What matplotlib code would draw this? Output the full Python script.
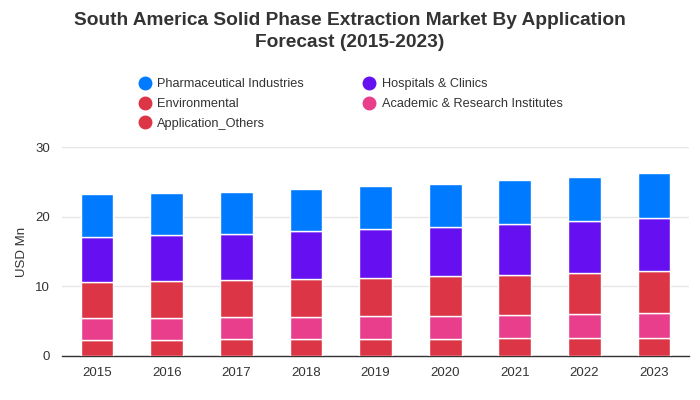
import matplotlib
matplotlib.use('Agg')
import matplotlib.pyplot as plt
from matplotlib.lines import Line2D
import numpy as np

plt.rcParams['font.family'] = ['Liberation Sans', 'DejaVu Sans']

years = ['2015', '2016', '2017', '2018', '2019', '2020', '2021', '2022', '2023']
app_others = [2.30, 2.28, 2.44, 2.44, 2.44, 2.44, 2.58, 2.58, 2.58]
academic = [3.15, 3.17, 3.16, 3.16, 3.30, 3.30, 3.31, 3.45, 3.59]
environmental = [5.17, 5.32, 5.31, 5.45, 5.46, 5.74, 5.74, 5.88, 6.03]
hospitals = [6.46, 6.60, 6.60, 6.89, 7.03, 7.04, 7.32, 7.47, 7.61]
pharma = [6.22, 6.07, 6.08, 6.08, 6.22, 6.22, 6.36, 6.36, 6.51]

# bottom to top
series = [
    ('Application_Others', app_others, '#dc3545'),
    ('Academic & Research Institutes', academic, '#e83e8c'),
    ('Environmental', environmental, '#dc3545'),
    ('Hospitals & Clinics', hospitals, '#6610f2'),
    ('Pharmaceutical Industries', pharma, '#007bff'),
]

fig = plt.figure(figsize=(7, 4), dpi=100)
ax = fig.add_axes([0.089, 0.11, 0.895, 0.5225])

x = np.arange(len(years))
bottom = np.zeros(len(years))
for name, vals, col in series:
    ax.bar(x, vals, 0.47, bottom=bottom, color=col, edgecolor='white', linewidth=1, zorder=3)
    bottom = bottom + np.array(vals)

ax.set_xlim(-0.5, len(years) - 0.5)
ax.set_ylim(0, 30)
ax.set_yticks([0, 10, 20, 30])
ax.set_xticks(x)
ax.set_xticklabels(years)
ax.grid(axis='y', color='#e6e6e6', linewidth=1, zorder=0)
for s in ['top', 'right', 'left']:
    ax.spines[s].set_visible(False)
ax.spines['bottom'].set_color('#333333')
ax.spines['bottom'].set_linewidth(1.0)
ax.tick_params(axis='both', length=0, labelsize=9.5, colors='#333333', pad=8)
ax.tick_params(axis='y', pad=9)
ax.set_ylabel('USD Mn', fontsize=9.5, color='#333333', labelpad=5)

fig.suptitle('South America Solid Phase Extraction Market By Application\nForecast (2015-2023)',
             fontsize=13.8, fontweight='bold', color='#333333', y=0.97, linespacing=1.4)

cols = {n: c for n, v, c in series}
order = ['Pharmaceutical Industries', 'Environmental', 'Application_Others',
         'Hospitals & Clinics', 'Academic & Research Institutes']
handles = [Line2D([], [], marker='o', linestyle='none', markersize=9,
                  markerfacecolor=cols[n], markeredgecolor=cols[n]) for n in order]
fig.legend(handles, order, loc='upper left', bbox_to_anchor=(0.19, 0.82), ncol=2,
           frameon=False, fontsize=9.2, handlelength=0.8, handletextpad=0.6,
           columnspacing=4.7, labelspacing=0.6, labelcolor='#333333', borderpad=0)

fig.savefig('out.png', dpi=100)
